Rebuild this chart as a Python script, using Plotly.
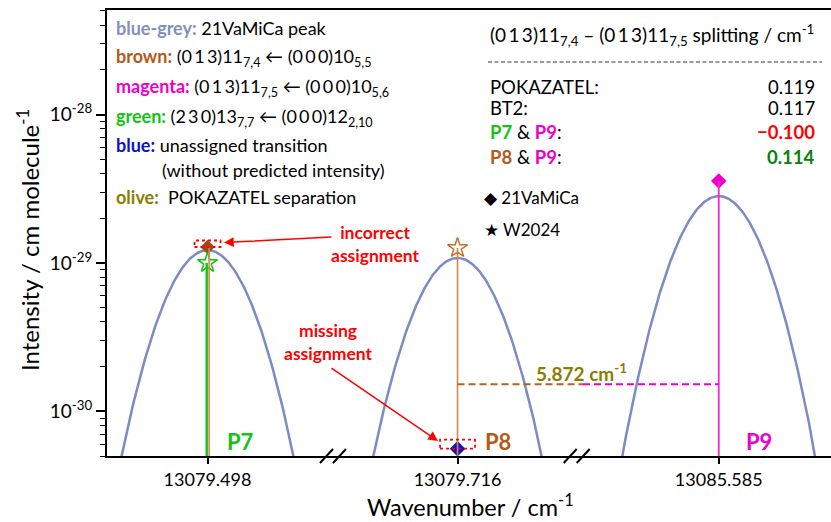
import numpy as np
import plotly.graph_objects as go

# ---------------- data ----------------
peak_labels = ["P7", "P8", "P9"]
peak_centers = [13079.498, 13079.716, 13085.585]          # cm-1
peak_heights = [1.22e-29, 1.08e-29, 2.82e-29]             # 21VaMiCa peak heights
peak_sigma = 0.0136                                        # Gaussian std, cm-1
tick_labels = ["13079.498", "13079.716", "13085.585"]

vamica_values = [1.28e-29, 5.6e-31, 3.56e-29]             # diamonds (21VaMiCa)
w2024_values = [1.0e-29, 1.26e-29]                        # stars (W2024) at P7, P8
separation_level = 1.52e-30
separation_label = "5.872 cm<sup>-1</sup>"

split_names = ["POKAZATEL:", "BT2:", "P7 & P9:", "P8 & P9:"]
split_values = ["0.119", "0.117", "\u22120.100", "0.114"]

y_ticks = [1e-30, 1e-29, 1e-28]
y_ticktext = ["10<sup>-30</sup>", "10<sup>-29</sup>", "10<sup>-28</sup>"]

# ---------------- styles / layout constants ----------------
C_CURVE = "#7B8CC4"
C_BROWN = "#B35A17"
C_BROWN_DK = "#9C4A14"
C_BROWN_LN = "#D4884E"
C_MAG = "#EE00CC"
C_GREEN = "#12C412"
C_BLUE = "#0A14C8"
C_OLIVE = "#8A7E00"
C_DKGREEN = "#0A800A"
C_RED = "#FF0000"
FONT = "Lato"

W, H = 831, 522
ML, MR, MT, MB = 107, 0, 10, 66
PW, PH = W - ML - MR, H - MT - MB
domains = [[0.0, 0.3122], [0.3122, 0.6492], [0.6492, 1.0]]
win_left = [0.0402, 0.0498, 0.0567]
win_right = [0.0502, 0.0478, 0.0449]
ranges = [[c - l, c + r] for c, l, r in zip(peak_centers, win_left, win_right)]
Y_RANGE = [np.log10(5.0e-31), np.log10(5.06e-28)]
Y_MIN = 10 ** Y_RANGE[0]


def px2paper(px, py):
    return (px - ML) / PW, (H - MB - py) / PH


def data_px(i, x):
    d0, d1 = domains[i]
    r0, r1 = ranges[i]
    return ML + PW * (d0 + (d1 - d0) * (x - r0) / (r1 - r0))


fig = go.Figure()
axes = ["x", "x2", "x3"]

# Gaussian 21VaMiCa peaks
for i, (c, a) in enumerate(zip(peak_centers, peak_heights)):
    xs = np.linspace(c - 0.065, c + 0.065, 401)
    ys = a * np.exp(-((xs - c) ** 2) / (2 * peak_sigma ** 2))
    fig.add_trace(go.Scatter(x=xs, y=ys, xaxis=axes[i], yaxis="y", mode="lines",
                             line=dict(color=C_CURVE, width=2.5), hoverinfo="skip"))

shapes = []
# sticks
shapes.append(dict(type="line", xref="x", yref="y", xsizemode="pixel", xanchor=peak_centers[0],
                   x0=1.6, x1=1.6, y0=Y_MIN, y1=vamica_values[0], line=dict(color=C_BROWN_LN, width=1.6)))
shapes.append(dict(type="line", xref="x", yref="y", xsizemode="pixel", xanchor=peak_centers[0],
                   x0=-0.8, x1=-0.8, y0=Y_MIN, y1=w2024_values[0], line=dict(color=C_GREEN, width=2.4)))
shapes.append(dict(type="line", xref="x2", yref="y", x0=peak_centers[1], x1=peak_centers[1],
                   y0=Y_MIN, y1=w2024_values[1], line=dict(color=C_BROWN_LN, width=1.6)))
shapes.append(dict(type="line", xref="x3", yref="y", x0=peak_centers[2], x1=peak_centers[2],
                   y0=Y_MIN, y1=vamica_values[2], line=dict(color="#F52AD2", width=1.8)))

# separation dashed lines
p8x = data_px(1, peak_centers[1])
p9x = data_px(2, peak_centers[2])
split_px = 583
shapes.append(dict(type="line", xref="paper", yref="y", x0=px2paper(p8x, 0)[0], x1=px2paper(split_px, 0)[0],
                   y0=separation_level, y1=separation_level, line=dict(color="#B8601E", width=2, dash="7px,4px")))
shapes.append(dict(type="line", xref="paper", yref="y", x0=px2paper(split_px, 0)[0], x1=px2paper(p9x, 0)[0],
                   y0=separation_level, y1=separation_level, line=dict(color=C_MAG, width=2, dash="7px,4px")))

# dotted red boxes
shapes.append(dict(type="rect", xref="x", yref="y", xsizemode="pixel", ysizemode="pixel",
                   xanchor=peak_centers[0], yanchor=vamica_values[0], x0=-13, x1=13, y0=-8, y1=6.5,
                   line=dict(color=C_RED, width=1.8, dash="dot")))
shapes.append(dict(type="rect", xref="x2", yref="y", xsizemode="pixel", ysizemode="pixel",
                   xanchor=peak_centers[1], yanchor=vamica_values[1], x0=-17.5, x1=17.5, y0=-11, y1=9,
                   line=dict(color=C_RED, width=1.8, dash="dot")))

# axis break marks
for bx in [333, 576.7]:
    for off in [-6.5, 6.5]:
        a0 = px2paper(bx + off - 6.5, 463)
        a1 = px2paper(bx + off + 6.5, 449)
        shapes.append(dict(type="line", xref="paper", yref="paper", x0=a0[0], y0=a0[1], x1=a1[0], y1=a1[1],
                           line=dict(color="black", width=2)))

# dashed separator in right block
s0 = px2paper(488, 62)
s1 = px2paper(822, 62)
shapes.append(dict(type="line", xref="paper", yref="paper", x0=s0[0], y0=s0[1], x1=s1[0], y1=s1[1],
                   line=dict(color="#333333", width=1, dash="4px,2.5px")))

# markers: 21VaMiCa diamonds
dcol = [C_BROWN_DK, C_BLUE, C_MAG]
dsize = [11, 12, 12]
for i in range(3):
    fig.add_trace(go.Scatter(x=[peak_centers[i]], y=[vamica_values[i]], xaxis=axes[i], yaxis="y",
                             mode="markers", marker=dict(symbol="diamond", size=dsize[i], color=dcol[i],
                                                         line=dict(width=0)), hoverinfo="skip"))
# W2024 stars
scol = [C_GREEN, "#C8702E"]
for i in range(2):
    fig.add_trace(go.Scatter(x=[peak_centers[i]], y=[w2024_values[i]], xaxis=axes[i], yaxis="y",
                             mode="markers", marker=dict(symbol="star", size=15, color="white",
                                                         line=dict(width=1.5, color=scol[i])), hoverinfo="skip"))

ann = []


def txt(px, py, text, size=18, color="black", xanchor="left", **kw):
    x, y = px2paper(px, py)
    ann.append(dict(xref="paper", yref="paper", x=x, y=y, text=text, showarrow=False, xanchor=xanchor,
                    yanchor="middle", font=dict(family=FONT, size=size, color=color), **kw))


SP = "\u2009"
st = lambda a: SP.join(a)
# left legend block
LX = 114
txt(LX, 28, f"<b><span style='color:#8090C4'>blue-grey:</span></b> 21VaMiCa peak")
txt(LX, 58, f"<b><span style='color:{C_BROWN}'>brown:</span></b> ({st('013')})11<sub>7,4</sub> \u2190 ({st('000')})10<sub>5,5</sub>")
txt(LX, 87, f"<b><span style='color:{C_MAG}'>magenta:</span></b> ({st('013')})11<sub>7,5</sub> \u2190 ({st('000')})10<sub>5,6</sub>")
txt(LX, 117, f"<b><span style='color:{C_GREEN}'>green:</span></b> ({st('230')})13<sub>7,7</sub> \u2190 ({st('000')})12<sub>2,10</sub>")
txt(LX, 145, f"<b><span style='color:{C_BLUE}'>blue:</span></b> unassigned transition")
txt(160, 170, "(without predicted intensity)")
txt(LX, 197, f"<b><span style='color:{C_OLIVE}'>olive:</span></b>  POKAZATEL separation")

# right block
RX = 488
txt(RX, 35, f"({st('013')})11<sub>7,4</sub> \u2013 ({st('013')})11<sub>7,5</sub> splitting / cm<sup>-1</sup>", size=19)
row_y = [87, 108, 132, 157]
names_fmt = [split_names[0], split_names[1],
             f"<b><span style='color:{C_GREEN}'>P7</span></b> & <b><span style='color:{C_MAG}'>P9</span></b>:",
             f"<b><span style='color:{C_BROWN}'>P8</span></b> & <b><span style='color:{C_MAG}'>P9</span></b>:"]
vals_fmt = [split_values[0], split_values[1],
            f"<b><span style='color:{C_RED}'>{split_values[2]}</span></b>",
            f"<b><span style='color:{C_DKGREEN}'>{split_values[3]}</span></b>"]
for yy, nm, vv in zip(row_y, names_fmt, vals_fmt):
    txt(RX, yy, nm, size=18.5)
    txt(817, yy, vv, size=18.5, xanchor="right")
txt(482, 197, "\u25c6 21VaMiCa", size=17)
txt(482, 229, "\u2605 W2024", size=17)

# peak labels
txt(240, 441, f"<b>{peak_labels[0]}</b>", size=22, color=C_GREEN, xanchor="center")
txt(498, 441, f"<b>{peak_labels[1]}</b>", size=22, color=C_BROWN, xanchor="center")
txt(759, 441, f"<b>{peak_labels[2]}</b>", size=22, color=C_MAG, xanchor="center")
txt(581, 372, f"<b>{separation_label}</b>", size=19, color=C_OLIVE, xanchor="center")

# red notes
txt(375, 244, "<b>incorrect<br>assignment</b>", size=17.5, color=C_RED, xanchor="center")
txt(328, 342, "<b>missing<br>assignment</b>", size=17.5, color=C_RED, xanchor="center")


def arrow(hx, hy, tx, ty):
    x, y = px2paper(hx, hy)
    ann.append(dict(xref="paper", yref="paper", x=x, y=y, text="", showarrow=True, ax=tx - hx, ay=ty - hy,
                    arrowhead=2, arrowsize=1.3, arrowwidth=1.5, arrowcolor=C_RED, standoff=0))


arrow(224, 242.5, 333, 237)
arrow(438, 441, 330, 367)

# axis titles
tx, ty = px2paper(470, 505)
ann.append(dict(xref="paper", yref="paper", x=tx, y=ty, text="Wavenumber / cm<sup>-1</sup>", showarrow=False,
                xanchor="center", yanchor="middle", font=dict(family=FONT, size=23.5, color="black")))
tx, ty = px2paper(28, 240)
ann.append(dict(xref="paper", yref="paper", x=tx, y=ty, text="Intensity / cm molecule<sup>-1</sup>", showarrow=False,
                xanchor="center", yanchor="middle", textangle=-90, font=dict(family=FONT, size=24, color="black")))

layout = dict(
    width=W, height=H, margin=dict(l=ML, r=MR, t=MT, b=MB),
    plot_bgcolor="white", paper_bgcolor="white", showlegend=False,
    font=dict(family=FONT, color="black"),
    shapes=shapes, annotations=ann,
    yaxis=dict(type="log", range=Y_RANGE, anchor="x", showline=True, linecolor="black", linewidth=2,
               ticks="outside", ticklen=9, tickwidth=1.5, tickcolor="black",
               tickvals=y_ticks, ticktext=y_ticktext, tickfont=dict(family=FONT, size=19),
               showgrid=False, zeroline=False,
               minor=dict(ticks="outside", ticklen=5, tickwidth=1.2, tickcolor="black", dtick="D1", showgrid=False)),
)
for i, ax in enumerate(["xaxis", "xaxis2", "xaxis3"]):
    layout[ax] = dict(domain=domains[i], range=ranges[i], anchor="y", showline=True, linecolor="black",
                      linewidth=2, mirror=True, ticks="outside", ticklen=6, tickwidth=1.5, tickcolor="black",
                      tickvals=[peak_centers[i]], ticktext=[tick_labels[i]],
                      tickfont=dict(family=FONT, size=18), showgrid=False, zeroline=False)
fig.update_layout(**layout)
fig.write_html("out.html")
